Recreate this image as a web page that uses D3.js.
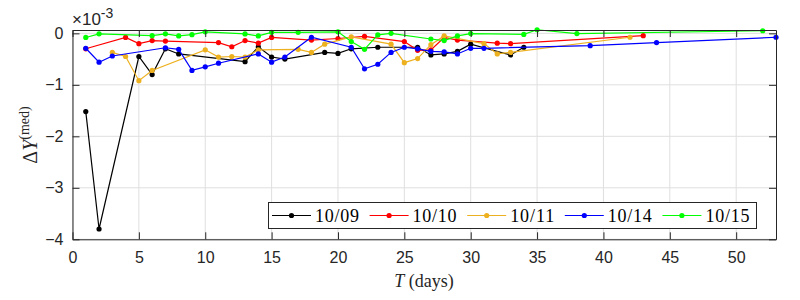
<!DOCTYPE html>
<html>
<head>
<meta charset="utf-8">
<script src="https://cdn.jsdelivr.net/npm/d3@7"></script>
<style>
  body { margin: 0; background: #fff; }
  svg { display: block; }
  .tick text { font-family: "Liberation Sans", Arial, sans-serif; font-size: 16px; fill: #262626; }
</style>
</head>
<body>
<svg id="chart" width="800" height="300"></svg>
<script>
  // values are in units of 1e-3
  var seriesNames = ['10/09', '10/10', '10/11', '10/14', '10/15'];
  var seriesColors = ['#000000', '#ff0000', '#edb120', '#0000ff', '#00ff00'];

  var x0909 = [1, 2, 5, 6, 7, 8, 13, 14, 15, 16, 19, 20, 21, 23, 26, 27, 28, 29, 30, 33, 34];
  var y0909 = [-1.52, -3.80, -0.45, -0.80, -0.30, -0.40, -0.55, -0.26, -0.46, -0.50, -0.37, -0.39, -0.30, -0.27, -0.27, -0.42, -0.40, -0.35, -0.21, -0.42, -0.27];

  var x1010 = [1, 4, 5, 6, 7, 11, 12, 13, 14, 15, 18, 20, 22, 25, 26, 27, 28, 29, 32, 33, 43];
  var y1010 = [-0.30, -0.08, -0.20, -0.14, -0.15, -0.18, -0.26, -0.14, -0.19, -0.08, -0.13, -0.10, -0.06, -0.16, -0.33, -0.32, -0.08, -0.13, -0.19, -0.20, -0.045];

  var x1011 = [3, 4, 5, 6, 10, 11, 12, 13, 14, 17, 18, 19, 21, 24, 25, 26, 27, 28, 31, 32, 33, 42];
  var y1011 = [-0.37, -0.45, -0.92, -0.72, -0.32, -0.46, -0.45, -0.46, -0.32, -0.31, -0.37, -0.21, -0.07, -0.21, -0.57, -0.49, -0.22, -0.05, -0.20, -0.40, -0.37, -0.076];

  var x1014 = [1, 2, 3, 7, 8, 9, 10, 11, 14, 15, 16, 18, 21, 22, 23, 24, 25, 26, 27, 28, 29, 30, 31, 39, 44, 53];
  var y1014 = [-0.29, -0.56, -0.44, -0.28, -0.31, -0.72, -0.65, -0.58, -0.40, -0.56, -0.46, -0.076, -0.27, -0.69, -0.60, -0.37, -0.27, -0.30, -0.35, -0.36, -0.40, -0.29, -0.29, -0.24, -0.18, -0.076];

  var x1015 = [1, 2, 6, 7, 8, 9, 10, 13, 14, 15, 17, 20, 21, 22, 23, 24, 27, 28, 29, 30, 34, 35, 38, 52];
  var y1015 = [-0.08, -0.01, -0.045, -0.01, -0.05, -0.025, 0.03, -0.012, -0.05, 0.02, 0.02, 0.03, -0.16, -0.31, -0.03, 0, -0.11, -0.14, -0.05, -0.005, -0.02, 0.07, -0.005, 0.05];

  var xTicks = [0, 5, 10, 15, 20, 25, 30, 35, 40, 45, 50];
  var yTicks = [-4, -3, -2, -1, 0];

  (function () {
    'use strict';

    var xs = [x0909, x1010, x1011, x1014, x1015],
      ys = [y0909, y1010, y1011, y1014, y1015];

    var svg = d3.select('#chart'),
      left = 72.5,
      right = 776,
      plotTop = 30,
      bottom = 239.3;

    var x = d3.scaleLinear().domain([0, 53]).range([left, right]),
      y = d3.scaleLinear().domain([-4, 0.065]).range([bottom, plotTop]);

    // grid
    svg.append('g').selectAll('line').data(xTicks).enter().append('line')
      .attr('x1', function (d) { return x(d); })
      .attr('x2', function (d) { return x(d); })
      .attr('y1', plotTop).attr('y2', bottom)
      .attr('stroke', '#dfdfdf').attr('stroke-width', 1);
    svg.append('g').selectAll('line').data(yTicks).enter().append('line')
      .attr('y1', function (d) { return y(d); })
      .attr('y2', function (d) { return y(d); })
      .attr('x1', left).attr('x2', right)
      .attr('stroke', '#dfdfdf').attr('stroke-width', 1);

    // series
    var line = d3.line()
      .x(function (d) { return x(d[0]); })
      .y(function (d) { return y(d[1]); });

    seriesNames.forEach(function (name, k) {
      var pts = xs[k].map(function (v, i) { return [v, ys[k][i]]; });
      var g = svg.append('g');
      g.append('path')
        .datum(pts)
        .attr('d', line)
        .attr('fill', 'none')
        .attr('stroke', seriesColors[k])
        .attr('stroke-width', 1.2);
      g.selectAll('circle').data(pts).enter().append('circle')
        .attr('cx', function (d) { return x(d[0]); })
        .attr('cy', function (d) { return y(d[1]); })
        .attr('r', 2.6)
        .attr('fill', seriesColors[k]);
    });

    // axes (ticks inside, box on)
    var tl = 7;
    function style(g) {
      g.select('.domain').attr('stroke', '#262626');
      g.selectAll('.tick line').attr('stroke', '#262626');
    }
    svg.append('g').attr('transform', 'translate(0,' + bottom + ')')
      .call(d3.axisBottom(x).tickValues(xTicks).tickSizeInner(-tl).tickSizeOuter(0).tickPadding(12))
      .call(style);
    svg.append('g').attr('transform', 'translate(0,' + plotTop + ')')
      .call(d3.axisTop(x).tickValues(xTicks).tickSizeInner(-tl).tickSizeOuter(0).tickFormat(''))
      .call(style);
    svg.append('g').attr('transform', 'translate(' + left + ',0)')
      .call(d3.axisLeft(y).tickValues(yTicks).tickSizeInner(-tl).tickSizeOuter(0).tickPadding(9).tickFormat(d3.format('d')))
      .call(style);
    svg.append('g').attr('transform', 'translate(' + right + ',0)')
      .call(d3.axisRight(y).tickValues(yTicks).tickSizeInner(-tl).tickSizeOuter(0).tickFormat(''))
      .call(style);

    // exponent
    var ex = svg.append('text')
      .attr('x', 72).attr('y', 25)
      .attr('font-family', '"Liberation Sans", Arial, sans-serif')
      .attr('font-size', 17).attr('fill', '#262626');
    ex.append('tspan').text('\u00d710');
    ex.append('tspan').attr('dy', -7).attr('font-size', 14).text('-3');

    // axis labels
    var serif = '"Liberation Serif", "DejaVu Serif", serif';
    var xl = svg.append('text')
      .attr('x', 424).attr('y', 287)
      .attr('text-anchor', 'middle')
      .attr('font-family', serif).attr('font-size', 18).attr('fill', '#262626');
    xl.append('tspan').attr('font-style', 'italic').text('T');
    xl.append('tspan').text(' (days)');

    var yl = svg.append('text')
      .attr('transform', 'translate(37,135) rotate(-90)')
      .attr('text-anchor', 'middle')
      .attr('font-family', serif).attr('font-size', 20).attr('fill', '#262626');
    yl.append('tspan').text('\u0394');
    yl.append('tspan').attr('font-style', 'italic').text('Y');
    yl.append('tspan').attr('dy', -8).attr('font-size', 14).text('(med)');

    // legend
    var lx = 268.5, ly = 202.5, lw = 488, lh = 26, step = 97.6;
    svg.append('rect')
      .attr('x', lx).attr('y', ly).attr('width', lw).attr('height', lh)
      .attr('fill', '#fff').attr('stroke', '#262626').attr('stroke-width', 1);
    seriesNames.forEach(function (name, k) {
      var gx = lx + 3.5 + k * step,
        gy = ly + lh / 2;
      svg.append('line')
        .attr('x1', gx).attr('x2', gx + 39).attr('y1', gy).attr('y2', gy)
        .attr('stroke', seriesColors[k]).attr('stroke-width', 1.2);
      svg.append('circle')
        .attr('cx', gx + 19.5).attr('cy', gy).attr('r', 2.6)
        .attr('fill', seriesColors[k]);
      svg.append('text')
        .attr('x', gx + 43).attr('y', gy + 6)
        .attr('font-family', serif).attr('font-size', 18).attr('fill', '#000')
        .attr('textLength', 44)
        .text(name);
    });
  })();
</script>
</body>
</html>
